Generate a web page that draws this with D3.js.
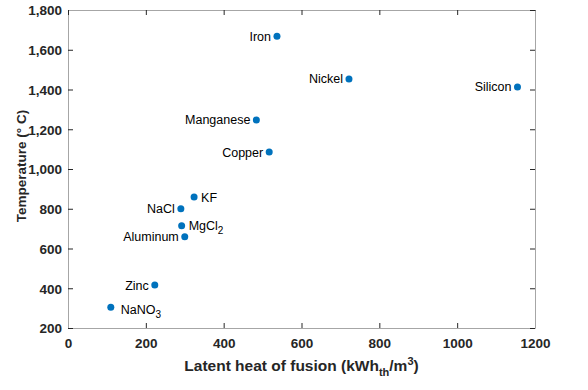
<!DOCTYPE html>
<html>
<head>
<meta charset="utf-8">
<script src="https://cdn.jsdelivr.net/npm/d3@7"></script>
<style>
  body { margin: 0; background: #fff; }
  svg { font-family: "Liberation Sans", Arial, sans-serif; }
</style>
</head>
<body>
<script>
// materials, latent heat (kWh_th/m^3) and temperature (deg C)
var names = ["Iron", "Nickel", "Silicon", "Manganese", "Copper", "KF", "NaCl", "MgCl2", "Aluminum", "Zinc", "NaNO3"];
var heat = [537, 722, 1155, 484, 517, 324, 290, 292, 300, 223, 110];
var temp = [1668, 1453, 1413, 1247, 1085, 859, 800, 715, 659, 416, 304];
// which labels sit right of the dot
var rightSide = ["KF", "MgCl2", "NaNO3"];

var xTicks = [0, 200, 400, 600, 800, 1000, 1200];
var yTicks = [200, 400, 600, 800, 1000, 1200, 1400, 1600, 1800];

var svgWidth = 588;
var svgHeight = 390;
var margin = { top: 10, right: 53, bottom: 62, left: 68 };
var width = svgWidth - margin.left - margin.right;
var height = svgHeight - margin.top - margin.bottom;

var svg = d3.select("body")
    .append("svg")
    .attr("width", svgWidth)
    .attr("height", svgHeight);

var chartGroup = svg.append("g")
    .attr("transform", `translate(${margin.left}, ${margin.top})`);

var x = d3.scaleLinear().domain([0, 1200]).range([0, width]);
var y = d3.scaleLinear().domain([200, 1800]).range([height, 0]);

var fmtY = d3.format(",");
var fmtX = d3.format("d");

// axes: ticks point inward, box all round
function styleAxis(g) {
    g.select(".domain").attr("stroke", "#a6a6a6");
    g.selectAll(".tick line").attr("stroke", "#262626");
    g.selectAll(".tick text")
        .attr("fill", "#262626")
        .style("font-size", "13.5px")
        .style("font-weight", "bold");
}

chartGroup.append("g")
    .attr("transform", `translate(0, ${height})`)
    .call(d3.axisBottom(x).tickValues(xTicks).tickFormat(fmtX).tickSizeInner(-5).tickSizeOuter(0).tickPadding(10))
    .call(styleAxis);

chartGroup.append("g")
    .call(d3.axisLeft(y).tickValues(yTicks).tickFormat(fmtY).tickSizeInner(-5).tickSizeOuter(0).tickPadding(6))
    .call(styleAxis)
    .selectAll(".tick text").attr("dy", "0.36em");

chartGroup.append("g")
    .call(d3.axisTop(x).tickValues(xTicks).tickSizeInner(-5).tickSizeOuter(0).tickFormat(""))
    .call(styleAxis);

chartGroup.append("g")
    .attr("transform", `translate(${width}, 0)`)
    .call(d3.axisRight(y).tickValues(yTicks).tickSizeInner(-5).tickSizeOuter(0).tickFormat(""))
    .call(styleAxis);

var points = names.map(function (n, i) {
    return { name: n, heat: heat[i], temp: temp[i] };
});

chartGroup.selectAll("circle")
    .data(points)
    .enter()
    .append("circle")
    .attr("cx", d => x(d.heat))
    .attr("cy", d => y(d.temp))
    .attr("r", 3.5)
    .attr("fill", "#0072bd");

// labels, with subscripts for the salts
var labels = chartGroup.selectAll(".lbl")
    .data(points)
    .enter()
    .append("text")
    .attr("class", "lbl")
    .style("font-size", "12.5px")
    .attr("fill", "#000")
    .attr("x", function (d) {
        if (d.name == "NaNO3") return x(d.heat) + 10;
        return rightSide.indexOf(d.name) >= 0 ? x(d.heat) + 7 : x(d.heat) - 6;
    })
    .attr("y", function (d) {
        return y(d.temp) + (d.name == "NaNO3" ? 7 : 4.5);
    })
    .attr("text-anchor", d => rightSide.indexOf(d.name) >= 0 ? "start" : "end");

labels.each(function (d) {
    var t = d3.select(this);
    var m = d.name.match(/^(.*?)(\d)$/);
    if (m) {
        t.append("tspan").text(m[1]);
        t.append("tspan").attr("dy", 4).style("font-size", "10px").text(m[2]);
    } else {
        t.text(d.name);
    }
});

// axis titles
svg.append("text")
    .attr("transform", `translate(26, ${margin.top + height / 2 - 3}) rotate(-90)`)
    .attr("text-anchor", "middle")
    .style("font-size", "13.5px")
    .style("font-weight", "bold")
    .attr("fill", "#262626")
    .text("Temperature (° C)");

var xt = svg.append("text")
    .attr("x", margin.left + width / 2)
    .attr("y", 371)
    .attr("text-anchor", "middle")
    .style("font-size", "15.5px")
    .style("font-weight", "bold")
    .attr("fill", "#262626");
xt.append("tspan").text("Latent heat of fusion (kWh");
xt.append("tspan").attr("dy", 5).style("font-size", "11px").text("th");
xt.append("tspan").attr("dy", -5).text("/m");
xt.append("tspan").attr("dy", -6).style("font-size", "11px").text("3");
xt.append("tspan").attr("dy", 6).text(")");
</script>
</body>
</html>
